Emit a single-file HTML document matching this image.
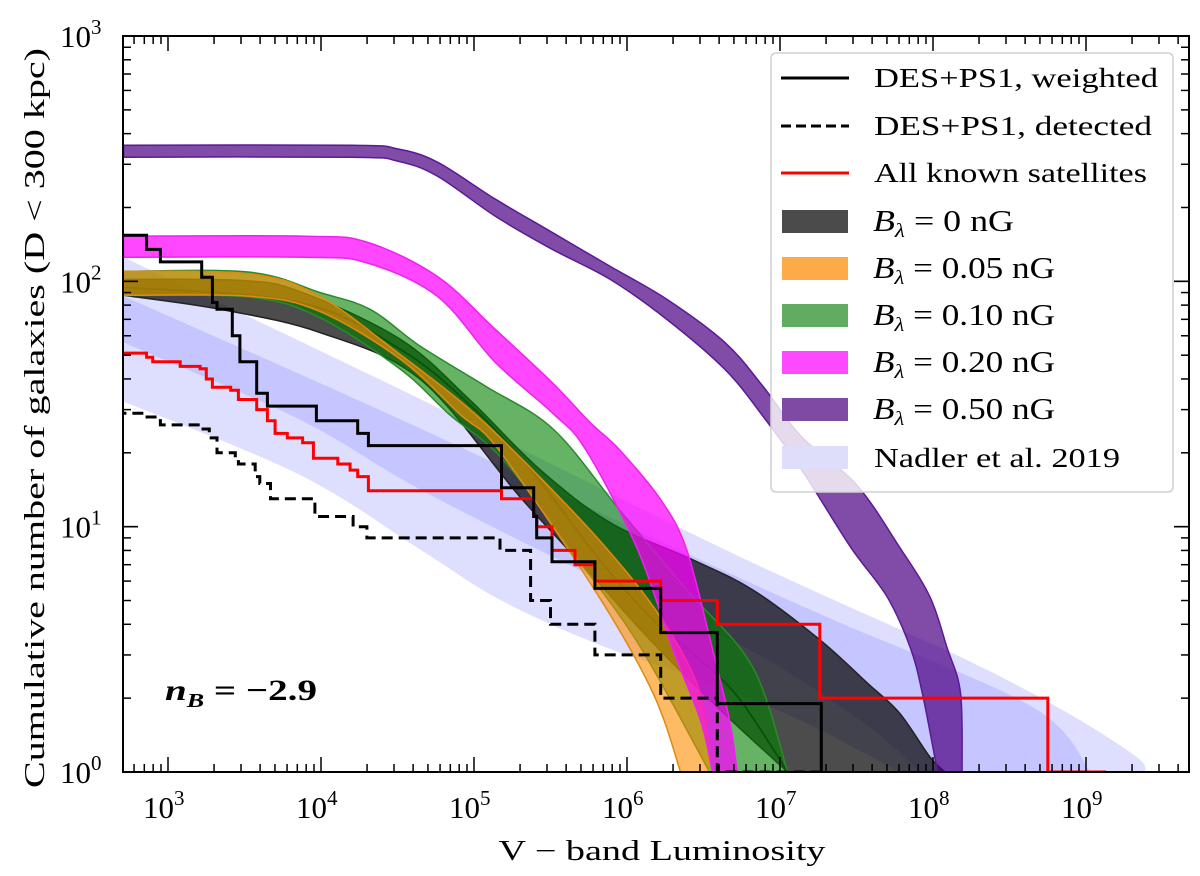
<!DOCTYPE html>
<html><head><meta charset="utf-8"><style>
html,body{margin:0;padding:0;background:#fff;}
svg{display:block;font-family:"Liberation Serif",serif;}
</style></head><body>
<svg id="chart" width="1200" height="876" viewBox="0 0 1200 876" xmlns="http://www.w3.org/2000/svg">
<defs><clipPath id="pc"><rect x="123" y="36" width="1066" height="736"/></clipPath></defs>
<rect width="1200" height="876" fill="#fff"/>
<g id="plot" clip-path="url(#pc)"></g>
<g id="axes"></g>
<text transform="translate(44,418) rotate(-90)" text-anchor="middle" font-size="28" textLength="740" lengthAdjust="spacingAndGlyphs">Cumulative number of galaxies (D &lt; 300 kpc)</text>
<text x="662" y="860" text-anchor="middle" font-size="28" textLength="327" lengthAdjust="spacingAndGlyphs">V − band Luminosity</text>
<text x="165" y="700" font-size="30" font-weight="bold" textLength="152" lengthAdjust="spacingAndGlyphs"><tspan font-style="italic">n</tspan><tspan font-style="italic" font-size="20" dy="7">B</tspan><tspan dy="-7"> = −2.9</tspan></text>
<g id="legend">
<rect x="771" y="53" width="402" height="439" rx="5" fill="#fff" fill-opacity="0.8" stroke="#d0d0d0" stroke-width="1.5"/>
<line x1="781" y1="78" x2="849" y2="78" stroke="#000" stroke-width="3"/>
<text x="874" y="87" font-size="27" textLength="284" lengthAdjust="spacingAndGlyphs">DES+PS1, weighted</text>
<line x1="781" y1="126" x2="849" y2="126" stroke="#000" stroke-width="3" stroke-dasharray="10,5"/>
<text x="874" y="135" font-size="27" textLength="278" lengthAdjust="spacingAndGlyphs">DES+PS1, detected</text>
<line x1="781" y1="173" x2="849" y2="173" stroke="#f00" stroke-width="3"/>
<text x="874" y="182" font-size="27" textLength="273" lengthAdjust="spacingAndGlyphs">All known satellites</text>
<rect x="782" y="210" width="66" height="23" fill="#4b4b4b"/>
<text x="873" y="231" font-size="31" textLength="141" lengthAdjust="spacingAndGlyphs"><tspan font-style="italic">B</tspan><tspan font-style="italic" font-size="20" dy="6">λ</tspan><tspan dy="-6"> = 0 nG</tspan></text>
<rect x="782" y="257" width="66" height="23" fill="#fdaa48"/>
<text x="873" y="278" font-size="31" textLength="182" lengthAdjust="spacingAndGlyphs"><tspan font-style="italic">B</tspan><tspan font-style="italic" font-size="20" dy="6">λ</tspan><tspan dy="-6"> = 0.05 nG</tspan></text>
<rect x="782" y="304" width="66" height="23" fill="#62ac62"/>
<text x="873" y="325" font-size="31" textLength="182" lengthAdjust="spacingAndGlyphs"><tspan font-style="italic">B</tspan><tspan font-style="italic" font-size="20" dy="6">λ</tspan><tspan dy="-6"> = 0.10 nG</tspan></text>
<rect x="782" y="351" width="66" height="23" fill="#ff4aff"/>
<text x="873" y="372" font-size="31" textLength="182" lengthAdjust="spacingAndGlyphs"><tspan font-style="italic">B</tspan><tspan font-style="italic" font-size="20" dy="6">λ</tspan><tspan dy="-6"> = 0.20 nG</tspan></text>
<rect x="782" y="398" width="66" height="23" fill="#7f4aa3"/>
<text x="873" y="419" font-size="31" textLength="182" lengthAdjust="spacingAndGlyphs"><tspan font-style="italic">B</tspan><tspan font-style="italic" font-size="20" dy="6">λ</tspan><tspan dy="-6"> = 0.50 nG</tspan></text>
<rect x="782" y="446" width="66" height="23" fill="#dedefb"/>
<text x="874" y="467" font-size="27" textLength="246" lengthAdjust="spacingAndGlyphs">Nadler et al. 2019</text>
</g>
</svg>
<script>
// ---- data (log10 L, log10 N) ----
const nadOuterL_up=[2.71,4.52,6.48,7.35,8.22,8.88,9.33,9.39];
const nadOuterN_up=[2.098,1.559,0.955,0.702,0.457,0.241,0.061,0];
const nadOuterL_lo=[2.71,3.86,4.65,5.17,5.82,6.48,7.13,7.78];
const nadOuterN_lo=[1.510,1.212,0.906,0.702,0.518,0.376,0.212,0];
const nadInnerL_up=[2.71,4.52,6.48,7.35,8.65,9.03];
const nadInnerN_up=[1.939,1.437,0.865,0.620,0.265,0];
const nadInnerL_lo=[2.71,3.86,4.65,5.82,6.80,7.52,7.92];
const nadInnerN_lo=[1.751,1.437,1.151,0.784,0.498,0.212,0];
const grayL_up=[2.71,3.47,3.86,4.52,4.97,5.43,5.89,6.43,6.82,7.26,7.57,7.78,7.98,8.08];
const grayN_up=[2.008,2.004,1.959,1.763,1.518,1.233,1.016,0.865,0.743,0.539,0.363,0.241,0.061,0];
const grayL_lo=[2.71,3.34,3.99,4.65,5.30,5.78,6.15,6.61,7.05];
const grayN_lo=[1.943,1.886,1.792,1.6,1.122,0.796,0.539,0.253,0];
const grayMidL=[2.71,3.86,4.52,4.97,5.37,5.82,6.17,6.48,6.74,7.05];
const grayMidN=[1.976,1.914,1.722,1.498,1.233,0.865,0.620,0.457,0.294,0];
const orangeL_up=[2.71,3.54,3.99,4.52,4.97,5.37,5.84,6.22,6.48,6.54];
const orangeN_up=[2.041,2.03,1.94,1.70,1.48,1.24,0.93,0.63,0.32,0];
const orangeL_lo=[2.71,3.54,3.99,4.52,4.91,5.17,5.80,6.17,6.35];
const orangeN_lo=[1.943,1.939,1.878,1.682,1.457,1.306,0.731,0.322,0];
const greenL_up=[2.71,3.54,3.99,4.32,4.65,5.08,5.52,5.95,6.39,6.82,7.05];
const greenN_up=[2.041,2.037,1.955,1.886,1.735,1.571,1.396,1.069,0.743,0.429,0];
const greenL_lo=[2.71,3.54,3.99,4.52,4.84,5.19,5.63,6.07,6.54];
const greenN_lo=[1.943,1.935,1.853,1.641,1.457,1.273,0.906,0.527,0];
const magL_up=[2.71,3.9,4.3,4.76,5.14,5.51,5.76,5.95,6.22,6.39,6.56,6.67,6.72];
const magN_up=[2.184,2.184,2.16,2.020,1.804,1.588,1.424,1.314,1.110,0.906,0.498,0.212,0];
const magL_lo=[2.71,3.9,4.3,4.76,5.14,5.51,5.73,6.07,6.30,6.48,6.56];
const magN_lo=[2.098,2.098,2.075,1.939,1.669,1.465,1.314,0.906,0.498,0.212,0];
const purL_up=[2.71,4.2,4.5,4.76,5.14,5.51,5.89,6.26,6.64,6.89,7.14,7.50,7.78,7.98,8.09,8.18,8.19];
const purN_up=[2.555,2.555,2.54,2.486,2.335,2.2,2.061,1.927,1.751,1.571,1.367,1.171,0.918,0.714,0.51,0.322,0];
const purL_lo=[2.71,4.2,4.5,4.76,5.14,5.51,5.89,6.26,6.64,6.89,7.14,7.46,7.70,7.85,7.93,8.03];
const purN_lo=[2.506,2.506,2.49,2.429,2.265,2.131,2.008,1.845,1.641,1.449,1.233,0.918,0.714,0.51,0.322,0];
// step series: log10 L breaks, counts
const wBreaks=[2.86,2.95,3.22,3.29,3.32,3.42,3.47,3.58,3.65,3.97,4.24,4.31,5.18,5.39,5.41,5.51,5.79,6.22,6.59];
const wLevels=[154,135,120,104,82,77,60,47,35,31,27,24,21.4,14.4,11,9.0,7.2,5.6,3.7,1.9];
const wEnd=7.27;
const dBreaks=[2.85,2.95,3.21,3.27,3.32,3.44,3.46,3.57,3.60,3.67,3.96,4.21,4.30,5.17,5.37,5.50,5.79,6.22,6.59];
const dLevels=[29,28,26,25,23,20,19,18,16,15,13,11,10,9,8,5,4,3,2,1];
const dEnd=7.27;
const rBreaks=[2.86,2.90,3.08,3.21,3.25,3.29,3.41,3.46,3.58,3.65,3.70,3.78,3.88,3.95,4.11,4.19,4.24,4.31,5.18,5.39,5.41,5.51,5.66,5.79,6.22,6.59,7.26,8.75];
const rLevels=[51,49,47,45,44,40,37,36,33,30,27,24,23,22,19,18,17,16,14,13,11,10,8,7,6,5,4,2,1];
const rEnd=9.12;
const xTickExps=[3,4,5,6,7,8,9];
const yTickExps=[0,1,2,3];

const NS="http://www.w3.org/2000/svg";
const Lmin=2.706, Lmax=9.673;
function X(l){return 168+(l-3)*153;}
function Y(n){return 772-n*245.33;}
const plot=document.getElementById('plot'), axes=document.getElementById('axes');
function mk(tag,attrs,parent){const e=document.createElementNS(NS,tag);for(const k in attrs)e.setAttribute(k,attrs[k]);parent.appendChild(e);return e;}
function smooth(pts,start){
  let d=(start?'M':'L')+pts[0][0].toFixed(1)+','+pts[0][1].toFixed(1);
  for(let i=0;i<pts.length-1;i++){
    const p0=pts[Math.max(0,i-1)],p1=pts[i],p2=pts[i+1],p3=pts[Math.min(pts.length-1,i+2)];
    const c1x=p1[0]+(p2[0]-p0[0])/6,c1y=p1[1]+(p2[1]-p0[1])/6;
    const c2x=p2[0]-(p3[0]-p1[0])/6,c2y=p2[1]-(p3[1]-p1[1])/6;
    d+=' C'+c1x.toFixed(1)+','+c1y.toFixed(1)+' '+c2x.toFixed(1)+','+c2y.toFixed(1)+' '+p2[0].toFixed(1)+','+p2[1].toFixed(1);
  }
  return d;
}
function band(Lu,Nu,Ll,Nl,fill,op,stroke,name){
  const up=Lu.map((l,i)=>[X(l),Y(Nu[i])]);
  const lo=Ll.map((l,i)=>[X(l),Y(Nl[i])]).reverse();
  const d=smooth(up,true)+' '+smooth(lo,false)+' Z';
  const e=mk('path',{d:d,fill:fill,'fill-opacity':op,stroke:stroke||'none','stroke-width':1.5,'stroke-linejoin':'round'},plot);
  
  
}
function line(Ls,Ns,color,name){
  const pts=Ls.map((l,i)=>[X(l),Y(Ns[i])]);
  const e=mk('path',{d:smooth(pts,true),fill:'none',stroke:color,'stroke-width':1.8},plot);
  
  
}
function steps(br,lv,end,color,dash,name){
  let d='M'+X(Lmin-0.05)+','+Y(Math.log10(lv[0])).toFixed(1);
  for(let i=0;i<br.length;i++){d+=' H'+X(br[i]).toFixed(1)+' V'+Y(Math.log10(lv[i+1])).toFixed(1);}
  d+=' H'+X(end).toFixed(1)+' V'+(Y(0)+10);
  const e=mk('path',{d:d,fill:'none',stroke:color,'stroke-width':3,'stroke-dasharray':dash||'none'},plot);
  
  
}
band(nadOuterL_up,nadOuterN_up,nadOuterL_lo,nadOuterN_lo,'#0000ff',0.13,null,'nadler-outer-band');
band(nadInnerL_up,nadInnerN_up,nadInnerL_lo,nadInnerN_lo,'#0000ff',0.11,null,'nadler-inner-band');
band(grayL_up,grayN_up,grayL_lo,grayN_lo,'#000000',0.7,'#222','band-b0');
line(grayMidL,grayMidN,'#111','band-b0-median');
band(greenL_up,greenN_up,greenL_lo,greenN_lo,'#008000',0.6,'#2a8a2a','band-b010');
band(orangeL_up,orangeN_up,orangeL_lo,orangeN_lo,'#ff8c00',0.6,'#e08a10','band-b005');
band(magL_up,magN_up,magL_lo,magN_lo,'#ff00ff',0.72,'#ee22ee','band-b020');
band(purL_up,purN_up,purL_lo,purN_lo,'#4b0082',0.7,'#5a1a96','band-b050');
steps(dBreaks,dLevels,dEnd,'#000','11,6','detected-step-line');
steps(rBreaks,rLevels,rEnd,'#f00',null,'known-satellites-step-line');
steps(wBreaks,wLevels,wEnd,'#000',null,'weighted-step-line');

const fr=mk('rect',{x:123,y:36,width:1066,height:736,fill:'none',stroke:'#000','stroke-width':2},axes);


for(let e=2;e<=9;e++){for(let m=1;m<10;m++){const l=e+Math.log10(m);if(l<Lmin||l>Lmax)continue;const x=X(l);const len=m===1?15:8;
  mk('line',{x1:x,y1:772,x2:x,y2:772-len,stroke:'#000','stroke-width':1.5},axes);
  mk('line',{x1:x,y1:36,x2:x,y2:36+len,stroke:'#000','stroke-width':1.5},axes);}}
xTickExps.forEach(e=>{const t=mk('text',{x:X(e)-25,y:818,'font-size':31},axes);
  
  
  t.innerHTML='10<tspan font-size="21" dy="-13">'+e+'</tspan>';});
for(let e=0;e<3;e++){for(let m=1;m<=10;m++){const n=e+Math.log10(m);const y=Y(n);const len=(m===1||m===10)?15:8;
  mk('line',{x1:123,y1:y,x2:123+len,y2:y,stroke:'#000','stroke-width':1.5},axes);
  mk('line',{x1:1189,y1:y,x2:1189-len,y2:y,stroke:'#000','stroke-width':1.5},axes);}}
yTickExps.forEach(e=>{const t=mk('text',{x:60,y:Y(e)+11,'font-size':31},axes);
  
  
  t.innerHTML='10<tspan font-size="21" dy="-13">'+e+'</tspan>';});
</script>
</body></html>
